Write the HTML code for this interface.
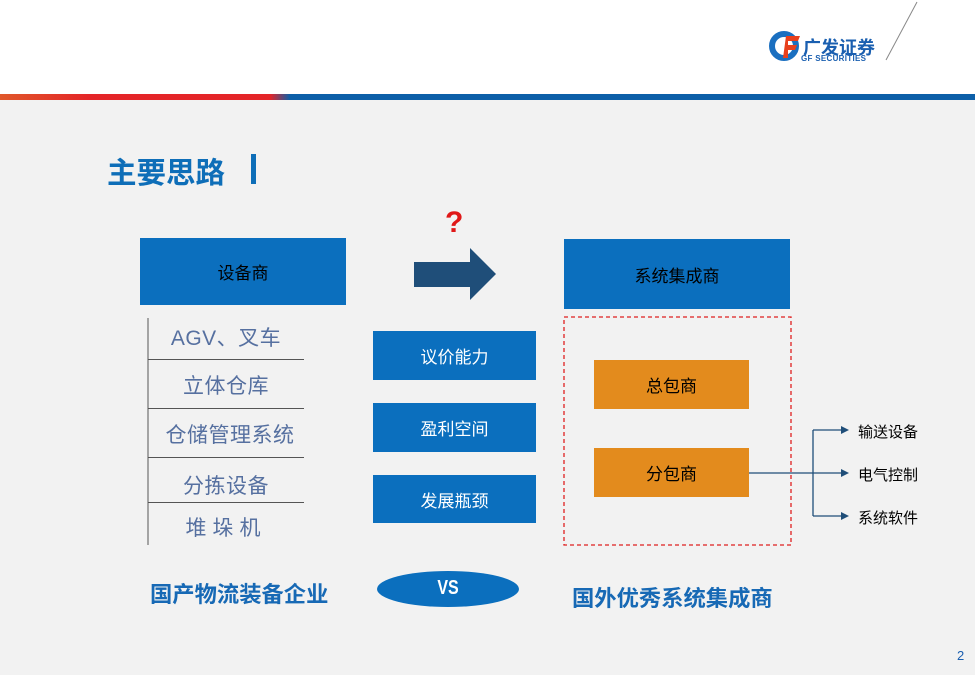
<!DOCTYPE html>
<html><head><meta charset="utf-8"><style>
*{margin:0;padding:0;box-sizing:border-box}
body{width:975px;height:675px;position:relative;background:#f2f2f2;font-family:"Liberation Sans","Noto Sans CJK SC",sans-serif;overflow:hidden}
.a{position:absolute}
.box{position:absolute;display:flex;align-items:center;justify-content:center}
.blue{background:#0b6fbe;color:#fff;font-size:17px}
.org{background:#e38b1d;color:#000;font-size:17px}
.lt{position:absolute;left:148px;width:156px;text-align:center;font-size:21px;color:#5670a0;letter-spacing:0.5px}
.hl{position:absolute;left:148px;width:156px;height:1px;background:#555}
.bt{position:absolute;font-size:22.3px;font-weight:bold;color:#1769b5}
.rt{position:absolute;left:858px;font-size:15px;color:#000}
</style></head><body>
<div class="a" style="left:0;top:0;width:975px;height:94px;background:#fff"></div>
<div class="a" style="left:0;top:94px;width:975px;height:6px;background:linear-gradient(90deg,#e0582a 0,#e42528 90px,#e42528 270px,#0d5fa8 290px,#0d5fa8 975px)"></div>
<svg class="a" style="left:0;top:0" width="975" height="675">
<line x1="917" y1="2" x2="886" y2="60" stroke="#888" stroke-width="1"/>
<circle cx="784" cy="46" r="12" fill="none" stroke="#1a6fc0" stroke-width="6"/>
<path d="M786 36h14l-2 5h-10v4h9l-2 5h-7v8h-5z" fill="#e8401c"/>
<rect x="414" y="262" width="56" height="25" fill="#1f4e79"/>
<polygon points="470,248 496,274 470,300" fill="#1f4e79"/>
<rect x="564" y="317" width="227" height="228" fill="none" stroke="#e02020" stroke-width="1.3" stroke-dasharray="4,3"/>
<g stroke="#1f4e79" stroke-width="1.3" fill="none">
<line x1="749" y1="473" x2="813" y2="473"/>
<line x1="813" y1="430" x2="813" y2="516"/>
<line x1="813" y1="430" x2="842" y2="430"/>
<line x1="813" y1="473" x2="842" y2="473"/>
<line x1="813" y1="516" x2="842" y2="516"/>
</g>
<g fill="#1f4e79"><polygon points="841,426 849,430 841,434"/><polygon points="841,469 849,473 841,477"/><polygon points="841,512 849,516 841,520"/></g>
<ellipse cx="448" cy="589" rx="71" ry="18" fill="#0b6fbe"/>
<line x1="148" y1="318" x2="148" y2="545" stroke="#555" stroke-width="1"/>
</svg>
<div class="a" style="left:803px;top:34px;font-size:18px;font-weight:bold;color:#1a5fb0">广发证券</div>
<div class="a" style="left:801px;top:54px;font-size:8px;font-weight:bold;color:#1a5fb0;letter-spacing:0.3px">GF SECURITIES</div>
<div class="a" style="left:107px;top:150px;font-size:29.5px;font-weight:bold;color:#0e6eb8">主要思路</div>
<div class="a" style="left:251px;top:154px;width:5px;height:30px;background:#0e6eb8"></div>
<div class="a" style="left:445px;top:206px;font-size:30px;font-weight:bold;color:#e01818;font-family:'Liberation Sans',sans-serif">?</div>
<div class="box blue" style="left:140px;top:238px;width:206px;height:67px;color:#000">设备商</div>
<div class="box blue" style="left:564px;top:239px;width:226px;height:70px;color:#000">系统集成商</div>
<div class="lt" style="top:322px">AGV、叉车</div>
<div class="hl" style="top:359px"></div>
<div class="lt" style="top:370px">立体仓库</div>
<div class="hl" style="top:408px"></div>
<div class="lt" style="top:419px;left:152px">仓储管理系统</div>
<div class="hl" style="top:457px"></div>
<div class="lt" style="top:470px">分拣设备</div>
<div class="hl" style="top:502px"></div>
<div class="lt" style="top:512px;letter-spacing:6px">堆垛机</div>
<div class="box blue" style="left:373px;top:331px;width:163px;height:49px">议价能力</div>
<div class="box blue" style="left:373px;top:403px;width:163px;height:49px">盈利空间</div>
<div class="box blue" style="left:373px;top:475px;width:163px;height:48px">发展瓶颈</div>
<div class="box org" style="left:594px;top:360px;width:155px;height:49px">总包商</div>
<div class="box org" style="left:594px;top:448px;width:155px;height:49px">分包商</div>
<div class="rt" style="top:421px">输送设备</div>
<div class="rt" style="top:464px">电气控制</div>
<div class="rt" style="top:507px">系统软件</div>
<div class="bt" style="left:150px;top:577px">国产物流装备企业</div>
<div class="a" style="left:418px;top:577px;width:60px;text-align:center;font-size:20px;font-weight:bold;color:#fff;transform:scaleX(0.8)">VS</div>
<div class="bt" style="left:572px;top:581px">国外优秀系统集成商</div>
<div class="a" style="left:957px;top:648px;font-size:13px;color:#1a5fb0">2</div>
</body></html>
